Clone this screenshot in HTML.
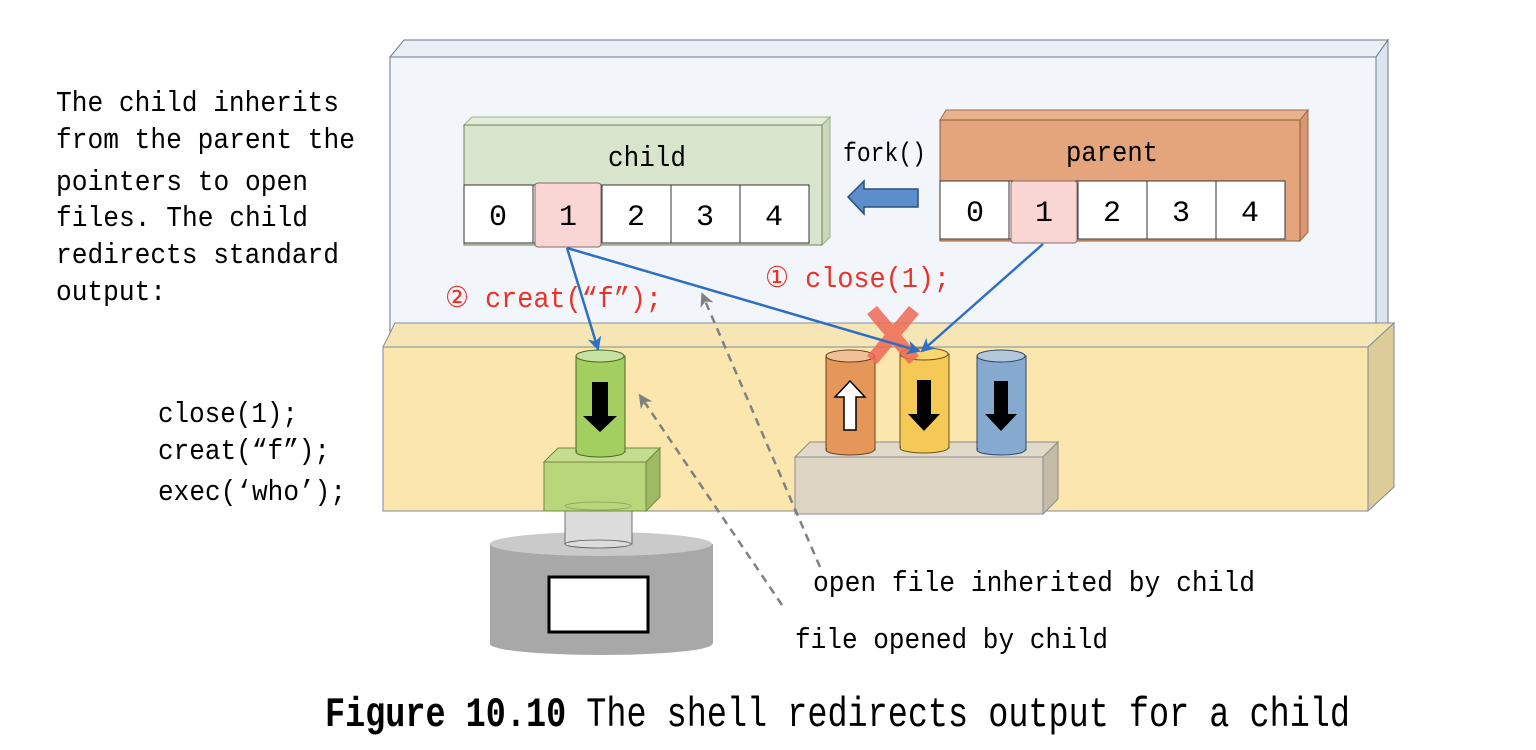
<!DOCTYPE html>
<html><head><meta charset="utf-8"><style>
html,body{margin:0;padding:0;background:#fff}
svg{display:block}
text{font-family:"Liberation Mono","DejaVu Sans Mono",monospace;}
</style></head><body>
<svg width="1536" height="750" viewBox="0 0 1536 750" xmlns="http://www.w3.org/2000/svg">
<defs>
<marker id="ab" markerWidth="14" markerHeight="14" refX="12" refY="7" orient="auto" markerUnits="userSpaceOnUse"><path d="M0,0 L14,7 L0,14 L4,7 z" fill="#2e6fc4"/></marker>
<marker id="ag" markerWidth="14" markerHeight="14" refX="10" refY="7" orient="auto" markerUnits="userSpaceOnUse"><path d="M0,0 L14,7 L0,14 L4,7 z" fill="#808080"/></marker>
</defs>
<polygon points="390,57 404,40 1388,40 1376,57" fill="#e9eef5" stroke="#6b7a8e" stroke-width="1"/>
<polygon points="1376,57 1388,40 1388,330 1376,347" fill="#dde3ec" stroke="#6b7a8e" stroke-width="1"/>
<rect x="390" y="57" width="986" height="290" fill="#f2f5fa" stroke="#6b7a8e" stroke-width="1"/>
<polygon points="383,347 395,323 1394,323 1368,347" fill="#f7e6b2" stroke="#7f8a99" stroke-width="1" opacity="0.95"/>
<polygon points="1368,347 1394,323 1394,487 1368,511" fill="#dccd98" stroke="#7f8a99" stroke-width="1"/>
<rect x="383" y="347" width="985" height="164" fill="#fbe7ad" stroke="#7f8a99" stroke-width="1"/>
<polygon points="464,125 472,117 830,117 822,125" fill="#e3ecd8" stroke="#9ab48a"/>
<polygon points="822,125 830,117 830,237 822,245" fill="#c8d8b8" stroke="#9ab48a"/>
<rect x="464" y="125" width="358" height="120" fill="#d7e5cc" stroke="#6f8060"/>
<text x="608" y="166" font-size="29" textLength="78" lengthAdjust="spacingAndGlyphs">child</text>
<g stroke="#333" stroke-width="1" fill="#fff">
<rect x="464" y="185" width="69" height="58"/><rect x="533" y="185" width="69" height="58"/><rect x="602" y="185" width="69" height="58"/><rect x="671" y="185" width="69" height="58"/><rect x="740" y="185" width="69" height="58"/>
</g>
<rect x="535" y="183" width="66" height="64" rx="3" fill="#f9d5d3" stroke="#8a6a6a"/>
<g font-size="30" text-anchor="middle"><text x="498" y="225">0</text><text x="568" y="225">1</text><text x="636" y="225">2</text><text x="705" y="225">3</text><text x="774" y="225">4</text></g>
<polygon points="940,120 946,110 1308,110 1300,120" fill="#e9b38e" stroke="#9a6a4a"/>
<polygon points="1300,120 1308,110 1308,232 1300,241" fill="#d99670" stroke="#9a6a4a"/>
<rect x="940" y="120" width="360" height="121" fill="#e4a57d" stroke="#8a5a3a"/>
<text x="1066" y="161" font-size="29" textLength="92" lengthAdjust="spacingAndGlyphs">parent</text>
<g stroke="#333" stroke-width="1" fill="#fff">
<rect x="940" y="181" width="69" height="58"/><rect x="1009" y="181" width="69" height="58"/><rect x="1078" y="181" width="69" height="58"/><rect x="1147" y="181" width="69" height="58"/><rect x="1216" y="181" width="69" height="58"/>
</g>
<rect x="1011" y="181" width="66" height="62" rx="3" fill="#f9d5d3" stroke="#8a6a6a"/>
<g font-size="30" text-anchor="middle"><text x="975" y="221">0</text><text x="1044" y="221">1</text><text x="1112" y="221">2</text><text x="1181" y="221">3</text><text x="1250" y="221">4</text></g>
<text x="843" y="161" font-size="27" textLength="83" lengthAdjust="spacingAndGlyphs">fork()</text>
<polygon points="848,197 864,181 864,189 918,189 918,207 864,207 864,214" fill="#5b8fcc" stroke="#2d4f7a" stroke-width="1.5"/>
<g font-size="29" lengthAdjust="spacingAndGlyphs">
<text x="56" y="111" textLength="283" lengthAdjust="spacingAndGlyphs">The child inherits</text>
<text x="56" y="148" textLength="299" lengthAdjust="spacingAndGlyphs">from the parent the</text>
<text x="56" y="190" textLength="252" lengthAdjust="spacingAndGlyphs">pointers to open</text>
<text x="56" y="226" textLength="252" lengthAdjust="spacingAndGlyphs">files. The child</text>
<text x="56" y="263" textLength="283" lengthAdjust="spacingAndGlyphs">redirects standard</text>
<text x="56" y="300" textLength="110" lengthAdjust="spacingAndGlyphs">output:</text>
<text x="158" y="422" textLength="140" lengthAdjust="spacingAndGlyphs">close(1);</text>
<text x="158" y="459" textLength="172" lengthAdjust="spacingAndGlyphs">creat(“f”);</text>
<text x="158" y="500" textLength="188" lengthAdjust="spacingAndGlyphs">exec(‘who’);</text>
</g>
<text x="445" y="307" font-size="29" fill="#e8332a" textLength="217" lengthAdjust="spacingAndGlyphs">② creat(“f”);</text>
<text x="765" y="287" font-size="29" fill="#e8332a" textLength="185" lengthAdjust="spacingAndGlyphs">① close(1);</text>
<rect x="490" y="544" width="223" height="100" fill="#a8a8a8"/>
<ellipse cx="601" cy="644" rx="111" ry="11" fill="#a8a8a8"/>
<ellipse cx="601" cy="544" rx="111" ry="12" fill="#cacaca"/>
<rect x="549" y="577" width="99" height="55" fill="#fff" stroke="#000" stroke-width="3"/>
<rect x="565" y="506" width="67" height="38" fill="#dcdcdc" stroke="#555" stroke-width="0.8"/>
<ellipse cx="598" cy="544" rx="33" ry="4" fill="#dcdcdc" stroke="#555" stroke-width="0.8"/>
<polygon points="544,462 558,448 660,448 646,462" fill="#c5dc8f" stroke="#6f8a40"/>
<polygon points="646,462 660,448 660,497 646,511" fill="#9fba63" stroke="#6f8a40"/>
<rect x="544" y="462" width="102" height="49" fill="#bad67a" stroke="#6f8a40"/>
<ellipse cx="598" cy="506" rx="33" ry="4" fill="none" stroke="#8aa060" stroke-width="0.8"/>
<rect x="576" y="356" width="49" height="96" fill="#a2cf60" stroke="#4a6a2a"/>
<ellipse cx="600" cy="452" rx="24" ry="5" fill="#a2cf60" stroke="#4a6a2a"/>
<rect x="577" y="440" width="47" height="12" fill="#a2cf60"/>
<ellipse cx="600" cy="356" rx="24" ry="6" fill="#c6e2a0" stroke="#4a6a2a"/>
<polygon points="592,382 608,382 608,416 617,416 600,432 583,416 592,416" fill="#000"/>
<polygon points="795,457 810,442 1058,442 1043,457" fill="#e2dac8" stroke="#8a8a8a"/>
<polygon points="1043,457 1058,442 1058,499 1043,514" fill="#c4bca8" stroke="#8a8a8a"/>
<rect x="795" y="457" width="248" height="57" fill="#ddd5c1" stroke="#8a8a9a"/>
<rect x="826" y="356" width="49" height="94" fill="#e5975a" stroke="#6a4020"/>
<ellipse cx="850" cy="450" rx="24" ry="5" fill="#e5975a" stroke="#6a4020"/>
<rect x="827" y="440" width="47" height="10" fill="#e5975a"/>
<ellipse cx="850" cy="356" rx="24" ry="6" fill="#f0c198" stroke="#6a4020"/>
<polygon points="844,430 856,430 856,397 865,397 850,381 835,397 844,397" fill="#fff" stroke="#000" stroke-width="1.5"/>
<rect x="900" y="354" width="49" height="94" fill="#f5c955" stroke="#6a5020"/>
<ellipse cx="924" cy="448" rx="24" ry="5" fill="#f5c955" stroke="#6a5020"/>
<rect x="901" y="438" width="47" height="10" fill="#f5c955"/>
<ellipse cx="924" cy="354" rx="24" ry="6" fill="#f8d670" stroke="#6a5020"/>
<polygon points="917,380 931,380 931,414 940,414 924,431 908,414 917,414" fill="#000"/>
<rect x="977" y="356" width="49" height="94" fill="#85a9cf" stroke="#2a4a6a"/>
<ellipse cx="1001" cy="450" rx="24" ry="5" fill="#85a9cf" stroke="#2a4a6a"/>
<rect x="978" y="440" width="47" height="10" fill="#85a9cf"/>
<ellipse cx="1001" cy="356" rx="24" ry="6" fill="#b4c8da" stroke="#2a4a6a"/>
<polygon points="994,381 1008,381 1008,414 1017,414 1001,431 985,414 994,414" fill="#000"/>
<g stroke="#ee6a55" stroke-width="13" opacity="0.85">
<line x1="872" y1="310" x2="914" y2="360"/><line x1="914" y1="310" x2="872" y2="360"/>
</g>
<g stroke="#2e6fc4" stroke-width="2.5" fill="none">
<line x1="567" y1="248" x2="598" y2="349" marker-end="url(#ab)"/>
<line x1="567" y1="248" x2="919" y2="351" marker-end="url(#ab)"/>
<line x1="1043" y1="244" x2="922" y2="351" marker-end="url(#ab)"/>
</g>
<g stroke="#808080" stroke-width="2.5" stroke-dasharray="8,6" fill="none">
<line x1="820" y1="567" x2="703" y2="296" marker-end="url(#ag)"/>
<line x1="782" y1="605" x2="641" y2="397" marker-end="url(#ag)"/>
</g>
<text x="813" y="591" font-size="29" textLength="442" lengthAdjust="spacingAndGlyphs">open file inherited by child</text>
<text x="795" y="648" font-size="29" textLength="313" lengthAdjust="spacingAndGlyphs">file opened by child</text>
<text x="325" y="726" font-size="42" textLength="1025" lengthAdjust="spacingAndGlyphs"><tspan font-weight="bold">Figure 10.10</tspan> The shell redirects output for a child</text>
</svg>
</body></html>
